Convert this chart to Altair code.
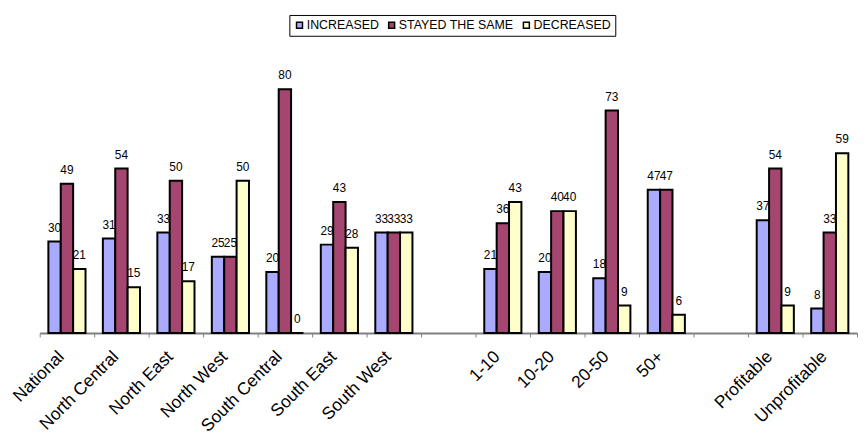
import altair as alt
import pandas as pd

categories = ["National", "North Central", "North East", "North West", "South Central",
              "South East", "South West", " ", "1-10", "10-20", "20-50", "50+", "  ",
              "Profitable", "Unprofitable"]
data_categories = [c for c in categories if c.strip()]
series = ["INCREASED", "STAYED THE SAME", "DECREASED"]
increased = [30, 31, 33, 25, 20, 29, 33, 21, 20, 18, 47, 37, 8]
stayed = [49, 54, 50, 25, 80, 43, 33, 36, 40, 73, 47, 54, 33]
decreased = [21, 15, 17, 50, 0, 28, 33, 43, 40, 9, 6, 9, 59]
colors = ["#AAAAFF", "#A4466F", "#FFFFCC"]

rows = []
for i, c in enumerate(data_categories):
    for s, vals in zip(series, [increased, stayed, decreased]):
        rows.append({"category": c, "series": s, "value": vals[i]})
df = pd.DataFrame(rows)

FONT = "Liberation Sans"

x = alt.X(
    "category:N",
    sort=categories,
    scale=alt.Scale(domain=categories, paddingInner=0, paddingOuter=0),
    axis=alt.Axis(
        title=None, labelAngle=-45, labelAlign="right", labelBaseline="middle",
        labelFontSize=17.5, labelFont=FONT, labelColor="black", labelPadding=17,
        labelOffset=-6, tickBand="extent", tickSize=4, tickColor="#808080",
        tickWidth=1, domainColor="#808080", domainWidth=2, grid=False,
    ),
)
xo = alt.XOffset("series:N", sort=series,
                 scale=alt.Scale(domain=series, paddingInner=0, paddingOuter=0.7))
y = alt.Y("value:Q", scale=alt.Scale(domain=[0, 80], nice=False), axis=None)

bars = alt.Chart(df).mark_bar(stroke="black", strokeWidth=2).encode(
    x=x, xOffset=xo, y=y,
    color=alt.Color(
        "series:N", sort=series,
        scale=alt.Scale(domain=series, range=colors),
        legend=alt.Legend(
            title=None, orient="none", legendX=252, legendY=-75,
            direction="horizontal", symbolType="square", symbolSize=36,
            symbolStrokeColor="black", symbolStrokeWidth=1.5,
            labelFontSize=12.5, labelFont=FONT, labelColor="black",
            strokeColor="black", padding=4, columnPadding=6, labelOffset=1,
        ),
    ),
)
text = alt.Chart(df).mark_text(
    baseline="alphabetic", dy=-10, fontSize=12, font=FONT, color="black"
).encode(x=x, xOffset=xo, y=y, text="value:Q")

chart = alt.layer(bars, text).properties(
    width=825, height=246,
    padding={"left": 32, "top": 80, "right": 1, "bottom": 106},
    autosize=alt.AutoSizeParams(type="none"),
).configure_view(stroke=None)

chart.save("out.html", embed_options={"renderer": "svg", "actions": False})
